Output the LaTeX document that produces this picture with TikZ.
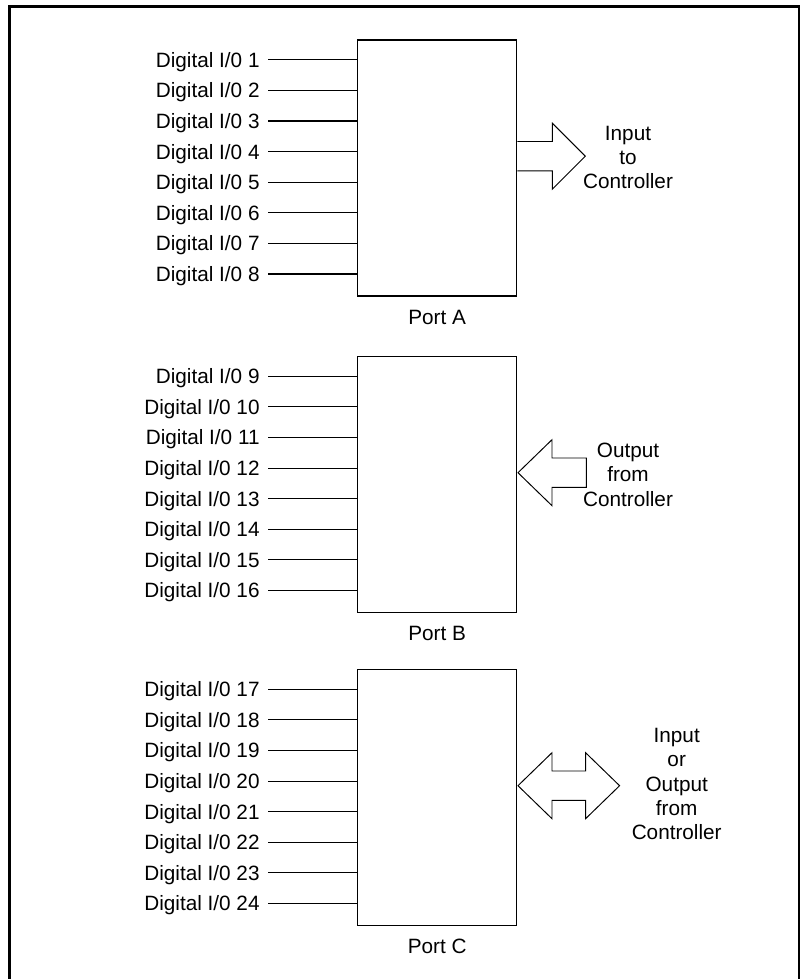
\documentclass[tikz,border=0pt]{standalone}
\usepackage{fontspec}
\setmainfont{Liberation Sans}
\usetikzlibrary{calc}
\begin{document}
\begin{tikzpicture}[x=0.02cm, y=-0.02cm, line width=0.6pt,
  font=\fontsize{11.8}{13.9}\selectfont,
  iolabel/.style={anchor=east, inner xsep=4.5pt, inner ysep=0pt, text height=8.5pt, text depth=0pt},
  portbox/.style={draw, line width=0.75pt, minimum width=3.18cm, minimum height=5.12cm, inner sep=0pt},
  fatarrow/.style={line width=0.55pt, line join=miter}]
  \useasboundingbox (0,0) rectangle (800,979);
  \draw[line width=1.15pt] (9.5,6.5) rectangle (799,990);
  % three ports, eight lines each
  \foreach \p/\top/\n in {A/39.5/0, B/356/8, C/669/16} {
    \node[portbox, anchor=north west] (port\p) at (357,\top) {};
    \node[yshift=-11.3pt, inner sep=0pt, text height=8.5pt, text depth=0pt] (name\p) at (port\p.south) {Port \p};
    \coordinate (arr\p) at ($(port\p.north east)+(0,116.7)$);
    \foreach \i in {1,...,8} {
      \pgfmathtruncatemacro\k{\n+\i}
      \node[iolabel] (io\k) at (268,{\top+20.3+30.6*(\i-1)}) {Digital I/0 \k};
      \draw (io\k.east) -- (io\k.east -| port\p.west);
    }
  }
  % block arrows
  \draw[fatarrow] (arrA) ++(0,-14.7) -- ++(35,0) -- ++(0,-18.3) -- ++(33,33) -- ++(-33,33) -- ++(0,-18.3) -- ++(-35,0);
  \draw[fatarrow] (arrB) ++(0.7,0) -- ++(34,-33) -- ++(0,18.3) -- ++(34.3,0) -- ++(0,29.4) -- ++(-34.3,0) -- ++(0,18.3) -- cycle;
  \draw[fatarrow] (arrC) ++(0.7,0) -- ++(34,-33) -- ++(0,18.3) -- ++(33.6,0) -- ++(0,-18.3) -- ++(34,33) -- ++(-34,33) -- ++(0,-18.3) -- ++(-33.6,0) -- ++(0,18.3) -- cycle;
  \node[align=center] (txtA) at (628,157.5) {Input\\to\\Controller};
  \node[align=center] (txtB) at (628,474.5) {Output\\from\\Controller};
  \node[align=center] (txtC) at (676.7,784) {Input\\or\\Output\\from\\Controller};
\end{tikzpicture}
\end{document}
